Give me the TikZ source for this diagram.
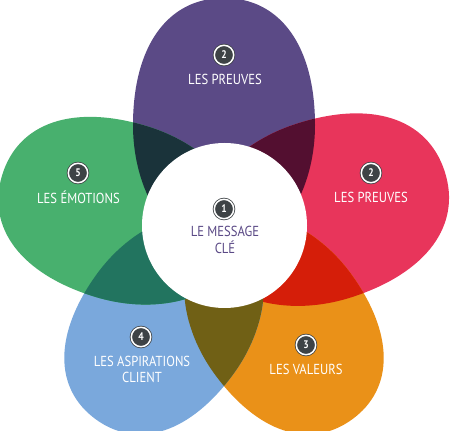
\documentclass[tikz,border=0pt]{standalone}
\usepackage{fontspec}
\setmainfont[FakeStretch=0.87]{PT Sans}
\definecolor{cpurple}{RGB}{91,74,134}
\definecolor{cred}{RGB}{232,53,91}
\definecolor{cgreen}{RGB}{72,176,110}
\definecolor{corange}{RGB}{234,145,24}
\definecolor{cblue}{RGB}{122,168,220}
\definecolor{mixpr}{RGB}{83,15,48}
\definecolor{mixro}{RGB}{213,30,9}
\definecolor{mixob}{RGB}{112,96,21}
\definecolor{mixbg}{RGB}{34,116,95}
\definecolor{mixgp}{RGB}{26,51,58}
\definecolor{badgegray}{RGB}{62,67,70}
\newcommand\eggdef[2]{%
 \pgfmathsetmacro\eT{#1}%
 \pgfmathsetmacro\eW{#2*91}%
 \pgfmathsetmacro\eXw{#1-#2*127}%
 \pgfmathsetmacro\eCo{\eXw+0.62*#2*127}%
 \pgfmathsetmacro\eCW{0.62*\eW}%
 \pgfmathsetmacro\eXi{\eXw-#2*130}%
 \pgfmathsetmacro\eCi{\eXw-0.55*#2*130}%
 \pgfmathsetmacro\eCWi{0.55*\eW}%
}
\newcommand\eggpath{(\eXw,\eW) .. controls (\eCo,\eW) and (\eT,\eCW) .. (\eT,0) .. controls (\eT,-\eCW) and (\eCo,-\eW) .. (\eXw,-\eW) .. controls (\eCi,-\eW) and (\eXi,-\eCWi) .. (\eXi,0) .. controls (\eXi,\eCWi) and (\eCi,\eW) .. (\eXw,\eW) -- cycle}
\newcommand\petal[4]{\eggdef{#2}{#3}\fill[#4, shift={(224,188)}, rotate=#1] \eggpath;}
\newcommand\overlap[7]{\begin{scope}\eggdef{#2}{#3}\clip[shift={(224,188)}, rotate=#1] \eggpath; \eggdef{#5}{#6}\fill[#7, shift={(224,188)}, rotate=#4] \eggpath;\end{scope}}
\tikzset{
 badge/.style={circle, fill=badgegray, draw=badgegray, double=white, double distance=1.5pt, line width=0.8pt, minimum size=19.4pt, inner sep=0pt, text=white, font=\fontsize{11}{11}\selectfont\bfseries},
 lbl/.style={text=white, font=\fontsize{14.5}{16.5}\selectfont, align=center, inner sep=0pt},
}
\begin{document}
\begin{tikzpicture}[x=1pt,y=1pt]
\useasboundingbox (0,0) rectangle (450,431);
\clip (0,0) rectangle (450,431);
% petals
\petal{90}{245}{1}{cpurple}
\petal{18}{232}{1}{cred}
\petal{-54}{218}{0.93}{corange}
\petal{-126}{218}{0.93}{cblue}
\petal{163}{232}{0.98}{cgreen}
% overlaps
\overlap{90}{245}{1}{18}{232}{1}{mixpr}
\overlap{18}{232}{1}{-54}{218}{0.93}{mixro}
\overlap{-54}{218}{0.93}{-126}{218}{0.93}{mixob}
\overlap{-126}{218}{0.93}{163}{232}{0.98}{mixbg}
\overlap{163}{232}{0.98}{90}{245}{1}{mixgp}
% centre
\fill[white] (224.5,205.5) circle[radius=82.5];
% badges and labels
\node[badge] (b1) at (224,222) {1};
\node[lbl, text=cpurple] (t1) at (225,191) {LE MESSAGE\\CLÉ};
\node[badge] (b2a) at (224,376) {2};
\node[lbl] (t2a) at (225,352) {LES PREUVES};
\node[badge] (b2b) at (371,258) {2};
\node[lbl] (t2b) at (371,234) {LES PREUVES};
\node[badge] (b3) at (306,86) {3};
\node[lbl] (t3) at (306,62) {LES VALEURS};
\node[badge] (b4) at (141,94) {4};
\node[lbl] (t4) at (142,61.5) {LES ASPIRATIONS\\CLIENT};
\node[badge] (b5) at (78,258) {5};
\node[lbl] (t5) at (78.5,234) {LES ÉMOTIONS};
\end{tikzpicture}
\end{document}
